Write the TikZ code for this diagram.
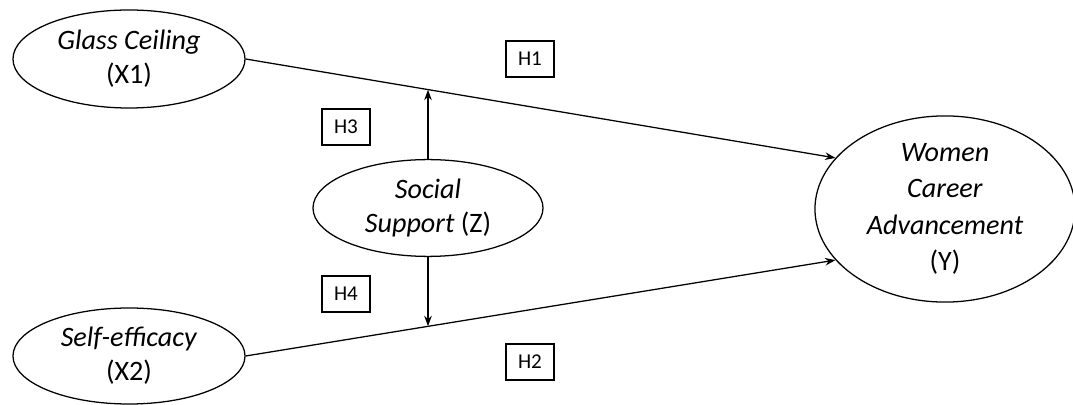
\documentclass[tikz,border=0pt]{standalone}
\usepackage{fontspec}
\setmainfont{Carlito}
\usetikzlibrary{shapes.geometric,arrows.meta,calc}

\tikzset{
    construct/.style={draw, ellipse, line width=0.9pt, align=center, inner sep=0pt,
        font=\fontsize{20}{24}\selectfont},
    hyp/.style={draw, rectangle, line width=0.9pt, minimum width=1.2cm, minimum height=0.9cm,
        inner sep=0pt, font=\fontsize{15}{18}\selectfont},
    path/.style={line width=0.9pt, -{Stealth[length=2.6mm,width=1.9mm]}}
}

\begin{document}
\begin{tikzpicture}[x=0.025cm, y=-0.025cm]
    \useasboundingbox (0,0) rectangle (1073,405);

    % Constructs
    \node[construct, minimum width=5.8cm, minimum height=2.45cm] (gc) at (129,59)
        {\textit{Glass Ceiling}\\(X1)};
    \node[construct, minimum width=5.8cm, minimum height=2.4cm] (se) at (129,356)
        {\textit{Self-efficacy}\\(X2)};
    \node[construct, minimum width=5.75cm, minimum height=2.42cm] (ss) at (428,208)
        {\textit{Social}\\\textit{Support} (Z)};
    \node[construct, minimum width=6.5cm, minimum height=3.55cm,
        font=\fontsize{20}{26}\selectfont] (wca) at (945,209)
        {\textit{Women}\\\textit{Career}\\\textit{Advancement}\\(Y)};

    % Hypotheses
    \node[hyp] (h1) at (530,59) {H1};
    \node[hyp] (h2) at (530,362) {H2};
    \node[hyp] (h3) at (346,127) {H3};
    \node[hyp] (h4) at (346,294) {H4};

    % Direct paths
    \draw[path] (gc.east) -- (wca.155) coordinate[pos=0.311] (m1);
    \draw[path] (se.east) -- (wca.205) coordinate[pos=0.311] (m2);

    % Moderation
    \draw[path] (ss.north) -- (ss.north |- m1);
    \draw[path] (ss.south) -- (ss.south |- m2);
\end{tikzpicture}
\end{document}
